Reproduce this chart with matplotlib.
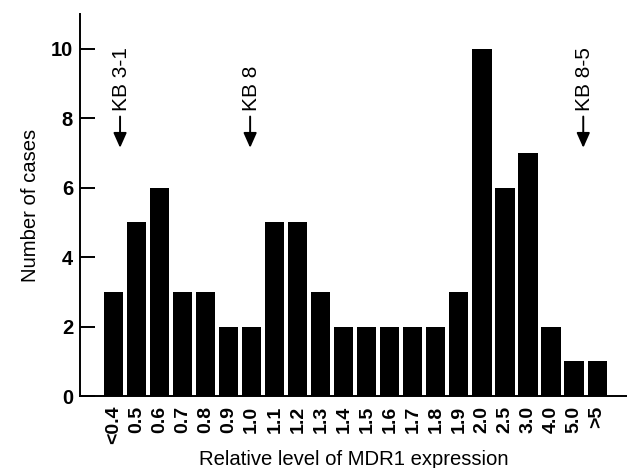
import matplotlib
matplotlib.use('Agg')
import matplotlib.pyplot as plt

plt.rcParams['font.family'] = ['Liberation Sans', 'DejaVu Sans']

# Relative MDR1 expression bins and number of cases
levels = ['<0.4', '0.5', '0.6', '0.7', '0.8', '0.9', '1.0', '1.1', '1.2', '1.3', '1.4',
          '1.5', '1.6', '1.7', '1.8', '1.9', '2.0', '2.5', '3.0', '4.0', '5.0', '>5']
cases = [3, 5, 6, 3, 3, 2, 2, 5, 5, 3, 2, 2, 2, 2, 2, 3, 10, 6, 7, 2, 1, 1]

# cell line markers (label, x position in bar units)
markers = [('KB 3-1', 0.28), ('KB 8', 5.93), ('KB 8-5', 20.4)]

fig = plt.figure(figsize=(6.27, 4.68), dpi=100)
ax = fig.add_axes([0.1276, 0.1538, 0.8724, 0.816])

x = list(range(len(levels)))
ax.bar(x, cases, width=0.83, color='black')

for label, xpos in markers:
    ax.text(xpos + 0.05, 8.2, label, rotation=90, ha='center', va='bottom', fontsize=15)
    ax.annotate('', xy=(xpos, 7.15), xytext=(xpos, 8.05),
                arrowprops=dict(arrowstyle='-|>,head_length=0.9,head_width=0.4',
                                color='black', lw=1.4, shrinkA=0, shrinkB=0))

ax.set_xlim(-1.46, 22.3)
ax.set_ylim(0, 11)
ax.set_yticks([0, 2, 4, 6, 8, 10])
ax.set_xticks(x)
ax.set_xticklabels(levels, rotation=90, fontsize=14, fontweight='bold')
for lab in ax.get_yticklabels():
    lab.set_fontsize(14.5)
    lab.set_fontweight('bold')

ax.tick_params(axis='x', length=0, pad=7)
ax.tick_params(axis='y', direction='in', length=11, width=1.4, pad=5)

ax.spines['top'].set_visible(False)
ax.spines['right'].set_visible(False)
ax.spines['left'].set_linewidth(1.4)
ax.spines['bottom'].set_linewidth(1.4)

ax.set_xlabel('Relative level of MDR1 expression', fontsize=14.6, labelpad=4)
ax.set_ylabel('Number of cases', fontsize=14.6, labelpad=8)

plt.savefig('out.png', dpi=100)
plt.close()
